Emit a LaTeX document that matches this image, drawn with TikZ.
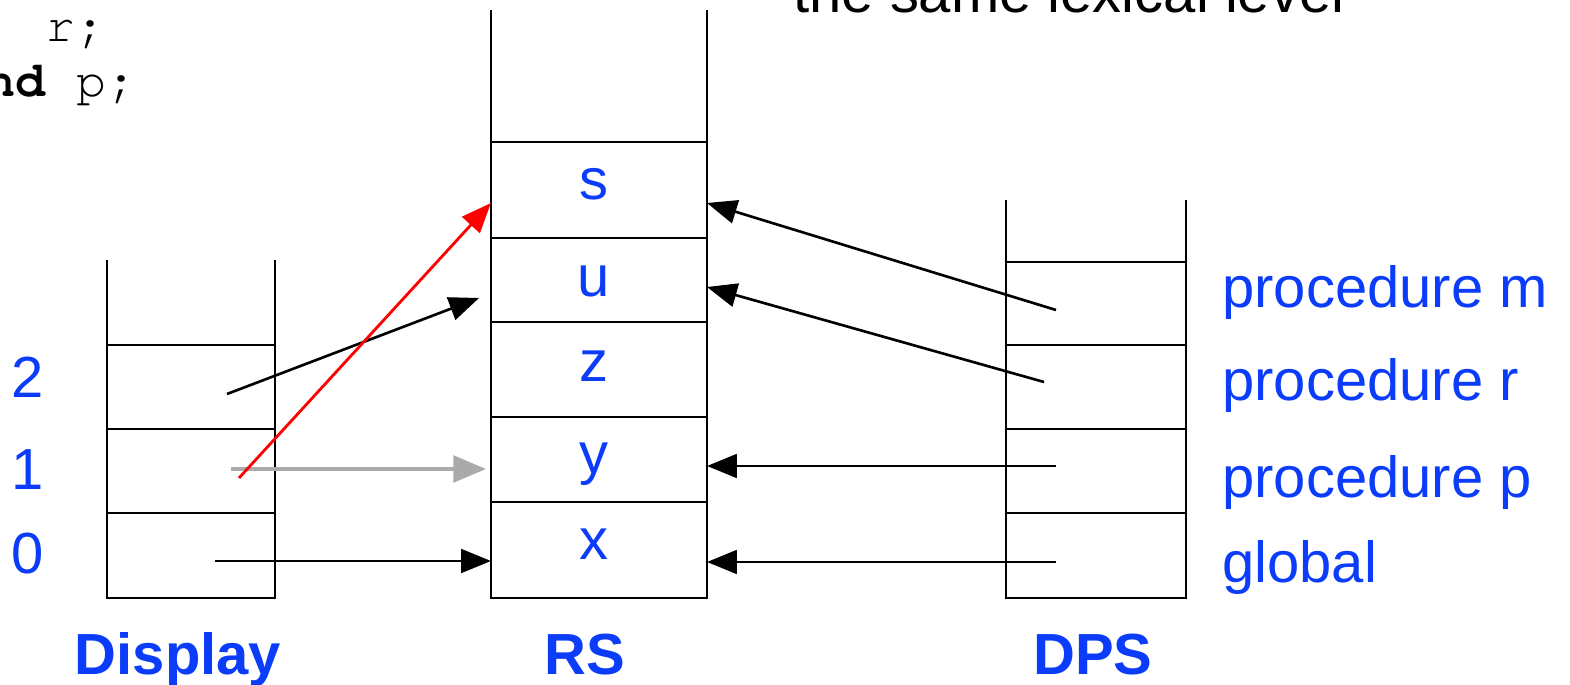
\documentclass[tikz,border=0pt]{standalone}
\usepackage{fontspec}
\setmainfont{Liberation Sans}
\newfontfamily\codefont{TeX Gyre Cursor}
\usetikzlibrary{arrows.meta}
\definecolor{lblue}{RGB}{10,60,250}
\definecolor{agray}{RGB}{170,170,170}
\begin{document}
\begin{tikzpicture}[x=0.02cm,y=-0.02cm,
  stackline/.style={line width=1.6pt,black},
  blk/.style={line width=1.5pt,black,-{Triangle[length=17pt,width=13.5pt]}},
  gry/.style={line width=2.4pt,agray,-{Triangle[length=18.5pt,width=15pt]}},
  redar/.style={line width=1.6pt,red,-{Triangle[length=17pt,width=13.5pt]}},
  bluetext/.style={font=\fontsize{33}{38}\selectfont,text=lblue,anchor=base,inner sep=0pt},
  bluebold/.style={font=\fontsize{33}{38}\selectfont\bfseries,text=lblue,anchor=base,inner sep=0pt},
  codetext/.style={font=\codefont\fontsize{28.5}{33}\selectfont,anchor=base west,inner sep=0pt},
  toptext/.style={font=\fontsize{33}{38}\selectfont,anchor=base west,inner sep=0pt}]
\useasboundingbox (0,0) rectangle (1570,685);

% code fragment
\node[codetext] (c1) at (45,42) {r;};
\node[codetext] (c2) at (-45,97) {\textbf{end} p;};
% top text
\node[toptext] (tt) at (793,13) {the same lexical level};

% Display stack
\draw[stackline] (107,260) -- (107,598) -- (275,598) -- (275,260);
\foreach \y in {345,429,513} \draw[stackline] (107,\y) -- (275,\y);
\node[bluetext] (d2) at (28,398) {2};
\node[bluetext] (d1) at (28,490) {1};
\node[bluetext] (d0) at (28,574) {0};
\coordinate (ds2) at (227,394);
\coordinate (ds1) at (231,469);
\coordinate (ds1r) at (239,478);
\coordinate (ds0) at (215,561);

% RS stack
\draw[stackline] (491,10) -- (491,598) -- (707,598) -- (707,10);
\foreach \y in {142,238,322,417,502} \draw[stackline] (491,\y) -- (707,\y);
\node[bluetext] (rs) at (594,200) {s};
\node[bluetext] (ru) at (594,297) {u};
\node[bluetext] (rz) at (594,382) {z};
\node[bluetext] (ry) at (594,474) {y};
\node[bluetext] (rx) at (594,560) {x};
\coordinate (rsL) at (491,203);
\coordinate (ruL) at (479,298);
\coordinate (ryL) at (486,469);
\coordinate (rxL) at (491,561);
\coordinate (rsR) at (707,203);
\coordinate (ruR) at (707,287);
\coordinate (ryR) at (707,466);
\coordinate (rxR) at (707,562);

% DPS stack
\draw[stackline] (1006,200) -- (1006,598) -- (1186,598) -- (1186,200);
\foreach \y in {262,345,429,513} \draw[stackline] (1006,\y) -- (1186,\y);
\coordinate (pm) at (1056,310);
\coordinate (pr) at (1044,382);
\coordinate (pp) at (1056,466);
\coordinate (pg) at (1056,562);
\node[bluetext,anchor=base west] (lm) at (1222,308) {procedure m};
\node[bluetext,anchor=base west] (lr) at (1222,401) {procedure r};
\node[bluetext,anchor=base west] (lp) at (1222,498) {procedure p};
\node[bluetext,anchor=base west] (lg) at (1222,583) {global};

% titles
\node[bluebold] (tD) at (178,675) {Display};
\node[bluebold] (tR) at (585,675) {RS};
\node[bluebold] (tP) at (1093,675) {DPS};

% arrows
\draw[blk] (ds0) -- (rxL);
\draw[gry] (ds1) -- (ryL);
\draw[blk] (ds2) -- (ruL);
\draw[redar] (ds1r) -- (rsL);
\draw[blk] (pm) -- (rsR);
\draw[blk] (pr) -- (ruR);
\draw[blk] (pp) -- (ryR);
\draw[blk] (pg) -- (rxR);
\end{tikzpicture}
\end{document}
